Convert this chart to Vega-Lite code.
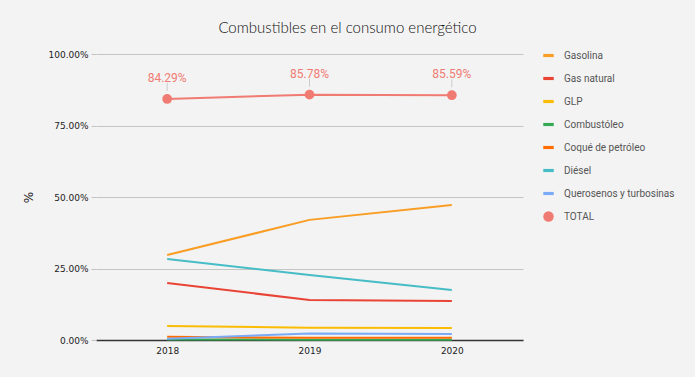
{
  "$schema": "https://vega.github.io/schema/vega-lite/v6.json",
  "width": 427,
  "height": 286,
  "autosize": {"type": "none"},
  "padding": {"left": 96, "top": 54, "right": 172, "bottom": 37},
  "background": "#f3f3f3",
  "title": {
    "text": "Combustibles en el consumo energético",
    "font": "Lato",
    "fontWeight": 300,
    "fontSize": 15,
    "color": "#111111",
    "anchor": "middle",
    "dx": 38,
    "offset": 14
  },
  "config": {
    "view": {"stroke": null},
    "axis": {"labelFont": "DejaVu Sans", "labelFontSize": 9, "labelColor": "#222222"}
  },
  "data": {
    "values": [
      {"year": "2018", "serie": "Gasolina", "value": 0.297},
      {"year": "2019", "serie": "Gasolina", "value": 0.420},
      {"year": "2020", "serie": "Gasolina", "value": 0.472},
      {"year": "2018", "serie": "Gas natural", "value": 0.199},
      {"year": "2019", "serie": "Gas natural", "value": 0.140},
      {"year": "2020", "serie": "Gas natural", "value": 0.136},
      {"year": "2018", "serie": "GLP", "value": 0.049},
      {"year": "2019", "serie": "GLP", "value": 0.043},
      {"year": "2020", "serie": "GLP", "value": 0.042},
      {"year": "2018", "serie": "Combustóleo", "value": 0.002},
      {"year": "2019", "serie": "Combustóleo", "value": 0.001},
      {"year": "2020", "serie": "Combustóleo", "value": 0.001},
      {"year": "2018", "serie": "Coqué de petróleo", "value": 0.011},
      {"year": "2019", "serie": "Coqué de petróleo", "value": 0.008},
      {"year": "2020", "serie": "Coqué de petróleo", "value": 0.008},
      {"year": "2018", "serie": "Diésel", "value": 0.283},
      {"year": "2019", "serie": "Diésel", "value": 0.227},
      {"year": "2020", "serie": "Diésel", "value": 0.175},
      {"year": "2018", "serie": "Querosenos y turbosinas", "value": 0.004},
      {"year": "2019", "serie": "Querosenos y turbosinas", "value": 0.023},
      {"year": "2020", "serie": "Querosenos y turbosinas", "value": 0.021},
      {"year": "2018", "serie": "TOTAL", "value": 0.8429},
      {"year": "2019", "serie": "TOTAL", "value": 0.8578},
      {"year": "2020", "serie": "TOTAL", "value": 0.8559}
    ]
  },
  "encoding": {
    "x": {
      "field": "year", "type": "ordinal",
      "scale": {"type": "point", "padding": 0.5},
      "axis": {"title": null, "labelAngle": 0, "ticks": false, "domainColor": "#333333", "domainWidth": 1.5, "labelPadding": 6}
    },
    "y": {
      "field": "value", "type": "quantitative",
      "scale": {"domain": [0, 1], "nice": false},
      "axis": {
        "title": "%", "titleFont": "DejaVu Sans", "titleFontSize": 12, "titleFontWeight": "normal", "titleColor": "#222222",
        "titlePadding": 12,
        "format": ".2%", "values": [0, 0.25, 0.5, 0.75, 1],
        "domain": false, "gridColor": "#c4c4c4", "tickColor": "#c4c4c4", "tickSize": 5, "labelPadding": 3
      }
    }
  },
  "layer": [
    {
      "mark": {"type": "line", "strokeWidth": 2},
      "encoding": {
        "color": {
          "field": "serie", "type": "nominal",
          "scale": {
            "domain": ["Gasolina", "Gas natural", "GLP", "Combustóleo", "Coqué de petróleo", "Diésel", "Querosenos y turbosinas", "TOTAL"],
            "range": ["#f99d24", "#e94335", "#fbbc04", "#34a853", "#ff6d01", "#46bdc6", "#7baaf7", "#f07b72"]
          }
        }
      }
    },
    {
      "transform": [{"filter": "datum.serie === 'TOTAL'"}],
      "mark": {"type": "rule", "color": "#cccccc", "strokeWidth": 1, "yOffset": -8, "y2Offset": -16},
      "encoding": {"y2": {"field": "value"}}
    },
    {
      "transform": [{"filter": "datum.serie === 'TOTAL'"}],
      "mark": {"type": "text", "dy": -21, "fontSize": 12, "font": "Roboto", "color": "#f07b72", "baseline": "middle"},
      "encoding": {"text": {"field": "value", "type": "quantitative", "format": ".2%"}}
    },
    {
      "mark": {"type": "point", "filled": true, "size": 95, "strokeWidth": 0},
      "encoding": {
        "color": {
          "field": "serie", "type": "nominal",
          "legend": {
            "title": null, "orient": "none", "legendX": 447, "legendY": -4,
            "labelFont": "Roboto", "labelFontSize": 10, "labelColor": "#555555",
            "rowPadding": 12, "labelOffset": 10, "symbolOpacity": 1, "symbolStrokeWidth": 0, "symbolSize": 110
          }
        },
        "shape": {
          "field": "serie", "type": "nominal",
          "scale": {
            "domain": ["Gasolina", "Gas natural", "GLP", "Combustóleo", "Coqué de petróleo", "Diésel", "Querosenos y turbosinas", "TOTAL"],
            "range": ["M-1,-0.3H1V0.3H-1Z", "M-1,-0.3H1V0.3H-1Z", "M-1,-0.3H1V0.3H-1Z", "M-1,-0.3H1V0.3H-1Z", "M-1,-0.3H1V0.3H-1Z", "M-1,-0.3H1V0.3H-1Z", "M-1,-0.3H1V0.3H-1Z", "circle"]
          },
          "legend": {
            "title": null, "orient": "none", "legendX": 447, "legendY": -4,
            "labelFont": "Roboto", "labelFontSize": 10, "labelColor": "#555555",
            "rowPadding": 12, "labelOffset": 10, "symbolOpacity": 1, "symbolStrokeWidth": 0, "symbolSize": 110
          }
        },
        "opacity": {
          "condition": {"test": "datum.serie === 'TOTAL'", "value": 1},
          "value": 0
        }
      }
    }
  ]
}
